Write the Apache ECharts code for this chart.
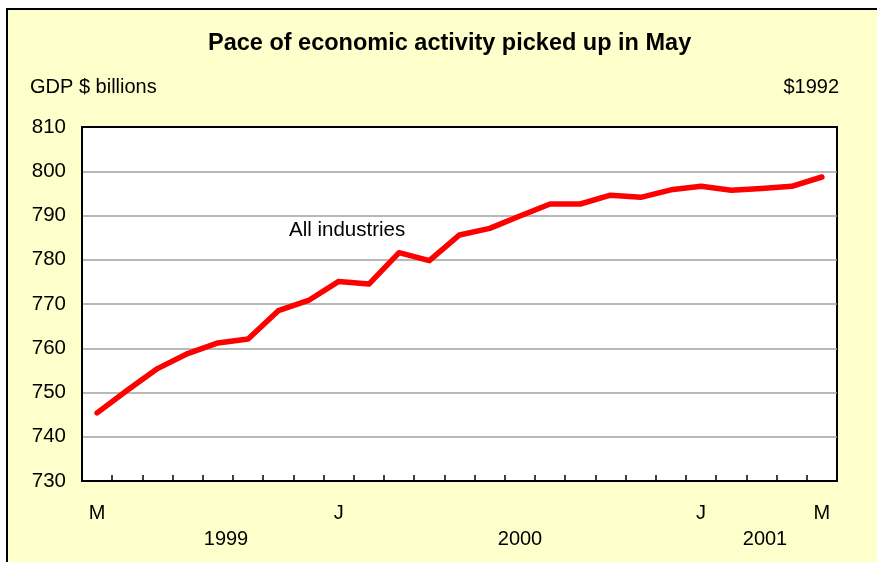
<!DOCTYPE html>
<html>
<head>
<meta charset="utf-8">
<script src="https://cdn.jsdelivr.net/npm/echarts@6/dist/echarts.min.js"></script>
<style>
html,body{margin:0;padding:0;background:#ffffff;}
#chart{width:877px;height:562px;}
</style>
</head>
<body>
<div id="chart"></div>
<script>
// Monthly categories May 1999 .. May 2001
const months = ['M','J','J','A','S','O','N','D','J','F','M','A','M','J','J','A','S','O','N','D','J','F','M','A','M'];
const shownLabels = [0, 8, 20, 24];
const allIndustries = [745.4, 750.5, 755.4, 758.8, 761.2, 762.1, 768.5, 770.8, 775.1, 774.5, 781.6, 779.8, 785.6, 787.1, 789.9, 792.6, 792.6, 794.6, 794.1, 795.8, 796.6, 795.7, 796.1, 796.6, 798.7];
const yearLabels = ['1999', '2000', '2001'];
const titleText = 'Pace of economic activity picked up in May';
const unitLeft = 'GDP $ billions';
const unitRight = '$1992';
const seriesName = 'All industries';

const FONT = "'Liberation Sans', Arial, sans-serif";
const chart = echarts.init(document.getElementById('chart'));
chart.setOption({
  animation: false,
  backgroundColor: 'transparent',
  title: {
    text: titleText,
    left: 203,
    top: 27,
    textStyle: {fontFamily: FONT, fontSize: 23.5, fontWeight: 'bold', color: '#000'}
  },
  grid: {
    left: 82, right: 40, top: 127, bottom: 81,
    show: true, backgroundColor: '#ffffff', borderColor: '#000', borderWidth: 2,
    containLabel: false
  },
  xAxis: {
    type: 'category',
    data: months,
    boundaryGap: true,
    axisLine: {show: true, lineStyle: {color: '#000', width: 2}},
    axisTick: {show: true, inside: true, length: 6, interval: 0, lineStyle: {color: '#000', width: 1.5}},
    axisLabel: {
      interval: function (i) { return shownLabels.indexOf(i) >= 0; },
      margin: 22, fontFamily: FONT, fontSize: 20, color: '#000'
    },
    splitLine: {show: false}
  },
  yAxis: {
    type: 'value',
    min: 730, max: 810, interval: 10,
    axisLine: {show: true, lineStyle: {color: '#000', width: 2}},
    axisTick: {show: false},
    axisLabel: {margin: 16, fontFamily: FONT, fontSize: 20.5, color: '#000'},
    splitLine: {show: true, showMaxLine: false, showMinLine: false, lineStyle: {color: '#a0a0a0', width: 1.5}}
  },
  series: [{
    name: seriesName,
    type: 'line',
    data: allIndustries,
    symbol: 'none',
    lineStyle: {color: '#ff0000', width: 5.5, cap: 'round', join: 'round'}
  }],
  graphic: [
    {type: 'rect', z: -100, shape: {x: 7, y: 9, width: 900, height: 600},
     style: {fill: '#ffffcc', stroke: '#000', lineWidth: 2}},
    {type: 'text', x: 30, y: 87, style: {text: unitLeft, font: "20px " + FONT, fill: '#000', textVerticalAlign: 'middle'}},
    {type: 'text', x: 839, y: 87, style: {text: unitRight, font: "20px " + FONT, fill: '#000', textAlign: 'right', textVerticalAlign: 'middle'}},
    {type: 'text', x: 289, y: 230, style: {text: seriesName, font: "20.5px " + FONT, fill: '#000', textVerticalAlign: 'middle'}},
    {type: 'text', x: 226, y: 539, style: {text: yearLabels[0], font: "20px " + FONT, fill: '#000', textAlign: 'center', textVerticalAlign: 'middle'}},
    {type: 'text', x: 520, y: 539, style: {text: yearLabels[1], font: "20px " + FONT, fill: '#000', textAlign: 'center', textVerticalAlign: 'middle'}},
    {type: 'text', x: 765, y: 539, style: {text: yearLabels[2], font: "20px " + FONT, fill: '#000', textAlign: 'center', textVerticalAlign: 'middle'}}
  ]
});
</script>
</body>
</html>
